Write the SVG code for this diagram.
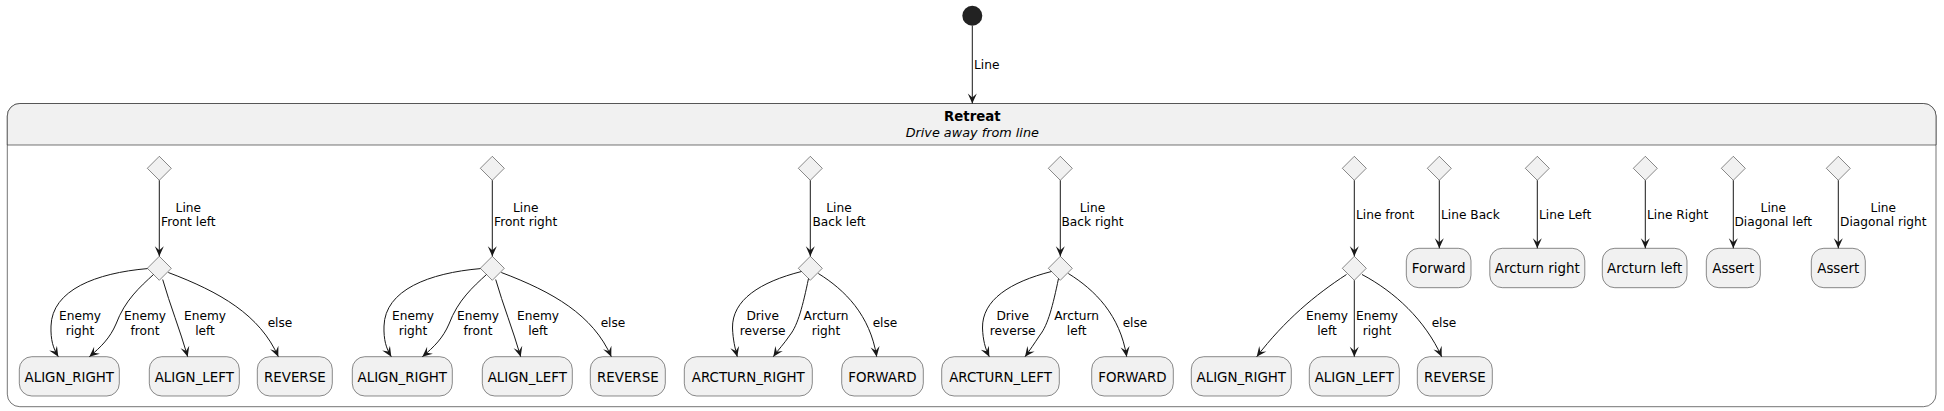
<svg xmlns="http://www.w3.org/2000/svg" width="1944" height="411" viewBox="0 0 1944 411">
<defs>
<marker id="ah" viewBox="-11 -6 12 12" refX="0" refY="0" markerWidth="12" markerHeight="12" markerUnits="userSpaceOnUse" orient="auto">
<path d="M0,0 L-10,-4.5 L-6,0 L-10,4.5 Z" fill="#181818"/>
</marker>
<style>
.st{fill:#F1F1F1;stroke:#181818;stroke-width:0.5}
.dm{fill:#F1F1F1;stroke:#181818;stroke-width:0.5}
.e{fill:none;stroke:#181818;stroke-width:1;marker-end:url(#ah)}
.sn{font-family:"DejaVu Sans",sans-serif;font-size:13.4px;fill:#000;text-anchor:middle}
.lb{font-family:"DejaVu Sans",sans-serif;font-size:12.2px;fill:#000;text-anchor:middle}
.ls{font-family:"DejaVu Sans",sans-serif;font-size:12.2px;fill:#000;text-anchor:start}
</style>
</defs>

<g id="start">
<circle cx="972.3" cy="15.7" r="10" fill="#222222"/>
</g>

<g id="Retreat">
<rect x="7.3" y="103.5" width="1928.7" height="303.2" rx="12.5" ry="12.5" fill="#FFFFFF" stroke="#181818" stroke-width="0.6"/>
<path d="M7.3,145 V116 A12.5,12.5 0 0 1 19.8,103.5 H1923.5 A12.5,12.5 0 0 1 1936,116 V145 Z" fill="#F1F1F1" stroke="#181818" stroke-width="0.6"/>
<text x="972.3" y="120.7" style="font-family:'DejaVu Sans',sans-serif;font-size:13.3px;font-weight:bold;text-anchor:middle">Retreat</text>
<text x="972.3" y="136.5" style="font-family:'DejaVu Sans',sans-serif;font-size:12.8px;font-style:italic;text-anchor:middle">Drive away from line</text>
</g>

<!-- Group 1 nodes -->
<g id="g1_choice1"><polygon class="dm" points="159.3,156.3 171.3,168.3 159.3,180.3 147.3,168.3"/></g>
<g id="g1_choice2"><polygon class="dm" points="159.3,256.3 171.3,268.3 159.3,280.3 147.3,268.3"/></g>
<g id="g1_align_right"><rect class="st" x="19.3" y="356.7" width="100" height="39.3" rx="12.5"/><text class="sn" x="69.3" y="381.5">ALIGN_RIGHT</text></g>
<g id="g1_align_left"><rect class="st" x="149.3" y="356.7" width="90" height="39.3" rx="12.5"/><text class="sn" x="194.3" y="381.5">ALIGN_LEFT</text></g>
<g id="g1_reverse"><rect class="st" x="257.3" y="356.7" width="75" height="39.3" rx="12.5"/><text class="sn" x="294.8" y="381.5">REVERSE</text></g>

<!-- Group 2 nodes -->
<g id="g2_choice1"><polygon class="dm" points="492.3,156.3 504.3,168.3 492.3,180.3 480.3,168.3"/></g>
<g id="g2_choice2"><polygon class="dm" points="492.3,256.3 504.3,268.3 492.3,280.3 480.3,268.3"/></g>
<g id="g2_align_right"><rect class="st" x="352.3" y="356.7" width="100" height="39.3" rx="12.5"/><text class="sn" x="402.3" y="381.5">ALIGN_RIGHT</text></g>
<g id="g2_align_left"><rect class="st" x="482.3" y="356.7" width="90" height="39.3" rx="12.5"/><text class="sn" x="527.3" y="381.5">ALIGN_LEFT</text></g>
<g id="g2_reverse"><rect class="st" x="590.3" y="356.7" width="75" height="39.3" rx="12.5"/><text class="sn" x="627.8" y="381.5">REVERSE</text></g>

<!-- Group 3 nodes -->
<g id="g3_choice1"><polygon class="dm" points="810.3,156.3 822.3,168.3 810.3,180.3 798.3,168.3"/></g>
<g id="g3_choice2"><polygon class="dm" points="810.3,256.3 822.3,268.3 810.3,280.3 798.3,268.3"/></g>
<g id="g3_arcturn_right"><rect class="st" x="684.3" y="356.7" width="128" height="39.3" rx="12.5"/><text class="sn" x="748.3" y="381.5">ARCTURN_RIGHT</text></g>
<g id="g3_forward"><rect class="st" x="841.7" y="356.7" width="81.6" height="39.3" rx="12.5"/><text class="sn" x="882.5" y="381.5">FORWARD</text></g>

<!-- Group 4 nodes -->
<g id="g4_choice1"><polygon class="dm" points="1060.3,156.3 1072.3,168.3 1060.3,180.3 1048.3,168.3"/></g>
<g id="g4_choice2"><polygon class="dm" points="1060.3,256.3 1072.3,268.3 1060.3,280.3 1048.3,268.3"/></g>
<g id="g4_arcturn_left"><rect class="st" x="941.7" y="356.7" width="117.6" height="39.3" rx="12.5"/><text class="sn" x="1000.5" y="381.5">ARCTURN_LEFT</text></g>
<g id="g4_forward"><rect class="st" x="1091.7" y="356.7" width="81.6" height="39.3" rx="12.5"/><text class="sn" x="1132.5" y="381.5">FORWARD</text></g>

<!-- Group 5 nodes -->
<g id="g5_choice1"><polygon class="dm" points="1354.3,156.3 1366.3,168.3 1354.3,180.3 1342.3,168.3"/></g>
<g id="g5_choice2"><polygon class="dm" points="1354.3,256.3 1366.3,268.3 1354.3,280.3 1342.3,268.3"/></g>
<g id="g5_align_right"><rect class="st" x="1191.3" y="356.7" width="100" height="39.3" rx="12.5"/><text class="sn" x="1241.3" y="381.5">ALIGN_RIGHT</text></g>
<g id="g5_align_left"><rect class="st" x="1309.3" y="356.7" width="90" height="39.3" rx="12.5"/><text class="sn" x="1354.3" y="381.5">ALIGN_LEFT</text></g>
<g id="g5_reverse"><rect class="st" x="1417.3" y="356.7" width="75" height="39.3" rx="12.5"/><text class="sn" x="1454.8" y="381.5">REVERSE</text></g>

<!-- Single transitions -->
<g id="g6_choice"><polygon class="dm" points="1439.3,156.3 1451.3,168.3 1439.3,180.3 1427.3,168.3"/></g>
<g id="g6_forward"><rect class="st" x="1406.3" y="248.3" width="64.7" height="39.4" rx="12.5"/><text class="sn" x="1438.7" y="273">Forward</text></g>
<g id="g7_choice"><polygon class="dm" points="1537.3,156.3 1549.3,168.3 1537.3,180.3 1525.3,168.3"/></g>
<g id="g7_arcturn_right"><rect class="st" x="1489.8" y="248.3" width="95" height="39.4" rx="12.5"/><text class="sn" x="1537.3" y="273">Arcturn right</text></g>
<g id="g8_choice"><polygon class="dm" points="1645.3,156.3 1657.3,168.3 1645.3,180.3 1633.3,168.3"/></g>
<g id="g8_arcturn_left"><rect class="st" x="1602.3" y="248.3" width="84.7" height="39.4" rx="12.5"/><text class="sn" x="1644.7" y="273">Arcturn left</text></g>
<g id="g9_choice"><polygon class="dm" points="1733.3,156.3 1745.3,168.3 1733.3,180.3 1721.3,168.3"/></g>
<g id="g9_assert"><rect class="st" x="1706.3" y="248.3" width="54" height="39.4" rx="12.5"/><text class="sn" x="1733.3" y="273">Assert</text></g>
<g id="g10_choice"><polygon class="dm" points="1838.3,156.3 1850.3,168.3 1838.3,180.3 1826.3,168.3"/></g>
<g id="g10_assert"><rect class="st" x="1811.3" y="248.3" width="54" height="39.4" rx="12.5"/><text class="sn" x="1838.3" y="273">Assert</text></g>

<g id="connectors">
<path class="e" d="M972.3,25.7 L972.3,103.5"/>
<text class="ls" x="974" y="68.5">Line</text>

<!-- group 1 -->
<path class="e" d="M159.3,180.3 L159.3,256.3"/>
<text class="lb" x="188.3" y="212">Line</text><text class="lb" x="188.3" y="226.3">Front left</text>
<path class="e" d="M147.5,268.6 C96,273 52,290 51,326 C50.6,340 53,348 58.3,356.7"/>
<text class="lb" x="80" y="320">Enemy</text><text class="lb" x="80" y="334.5">right</text>
<path class="e" d="M153.5,274.5 C140,287 125,300 116,324 C110,338 101,347 89.3,356.7"/>
<text class="lb" x="145" y="320">Enemy</text><text class="lb" x="145" y="334.5">front</text>
<path class="e" d="M162.7,279.5 C170,305 180,330 187.7,356.7"/>
<text class="lb" x="205" y="320">Enemy</text><text class="lb" x="205" y="334.5">left</text>
<path class="e" d="M168.3,272.5 C220,292 260,315 278.3,356.7"/>
<text class="lb" x="280" y="326.7">else</text>

<!-- group 2 -->
<path class="e" d="M492.3,180.3 L492.3,256.3"/>
<text class="lb" x="525.7" y="212">Line</text><text class="lb" x="525.7" y="226.3">Front right</text>
<path class="e" d="M480.5,268.6 C429,273 385,290 384,326 C383.6,340 386,348 391.3,356.7"/>
<text class="lb" x="413" y="320">Enemy</text><text class="lb" x="413" y="334.5">right</text>
<path class="e" d="M486.5,274.5 C473,287 458,300 449,324 C443,338 434,347 422.3,356.7"/>
<text class="lb" x="478" y="320">Enemy</text><text class="lb" x="478" y="334.5">front</text>
<path class="e" d="M495.7,279.5 C503,305 513,330 520.7,356.7"/>
<text class="lb" x="538" y="320">Enemy</text><text class="lb" x="538" y="334.5">left</text>
<path class="e" d="M501.3,272.5 C553,292 593,315 611.3,356.7"/>
<text class="lb" x="613" y="326.7">else</text>

<!-- group 3 -->
<path class="e" d="M810.3,180.3 L810.3,256.3"/>
<text class="lb" x="839" y="212">Line</text><text class="lb" x="839" y="226.3">Back left</text>
<path class="e" d="M801.5,271.5 C760,282 732,300 732.5,328 C733,340 735,348 737.3,356.7"/>
<text class="lb" x="762.7" y="320">Drive</text><text class="lb" x="762.7" y="334.5">reverse</text>
<path class="e" d="M808.5,278.5 C803,305 798,325 790,335 C784,344 778,350 773.3,356.7"/>
<text class="lb" x="826" y="320">Arcturn</text><text class="lb" x="826" y="334.5">right</text>
<path class="e" d="M818.3,273.5 C845,290 870,315 876.7,356.7"/>
<text class="lb" x="885" y="326.7">else</text>

<!-- group 4 -->
<path class="e" d="M1060.3,180.3 L1060.3,256.3"/>
<text class="lb" x="1092.5" y="212">Line</text><text class="lb" x="1092.5" y="226.3">Back right</text>
<path class="e" d="M1051.5,271.5 C1010,282 982,300 982.5,328 C983,340 985,348 989.3,356.7"/>
<text class="lb" x="1012.7" y="320">Drive</text><text class="lb" x="1012.7" y="334.5">reverse</text>
<path class="e" d="M1058.5,278.5 C1053,305 1048,325 1040,335 C1034,344 1030,350 1025,356.7"/>
<text class="lb" x="1076.7" y="320">Arcturn</text><text class="lb" x="1076.7" y="334.5">left</text>
<path class="e" d="M1068.3,273.5 C1095,290 1120,315 1126.7,356.7"/>
<text class="lb" x="1135" y="326.7">else</text>

<!-- group 5 -->
<path class="e" d="M1354.3,180.3 L1354.3,256.3"/>
<text class="ls" x="1356" y="218.5">Line front</text>
<path class="e" d="M1346.5,274.5 C1315,295 1285,320 1256.7,356.7"/>
<text class="lb" x="1327" y="320">Enemy</text><text class="lb" x="1327" y="334.5">left</text>
<path class="e" d="M1354.3,280.3 L1354.3,356.7"/>
<text class="lb" x="1377" y="320">Enemy</text><text class="lb" x="1377" y="334.5">right</text>
<path class="e" d="M1362,274.5 C1395,292 1425,320 1441.7,356.7"/>
<text class="lb" x="1444" y="326.7">else</text>

<!-- singles -->
<path class="e" d="M1439.3,180.3 L1439.3,248.3"/>
<text class="ls" x="1441" y="218.5">Line Back</text>
<path class="e" d="M1537.3,180.3 L1537.3,248.3"/>
<text class="ls" x="1539" y="218.5">Line Left</text>
<path class="e" d="M1645.3,180.3 L1645.3,248.3"/>
<text class="ls" x="1647" y="218.5">Line Right</text>
<path class="e" d="M1733.3,180.3 L1733.3,248.3"/>
<text class="lb" x="1773.3" y="212">Line</text><text class="lb" x="1773.3" y="226.3">Diagonal left</text>
<path class="e" d="M1838.3,180.3 L1838.3,248.3"/>
<text class="lb" x="1883.3" y="212">Line</text><text class="lb" x="1883.3" y="226.3">Diagonal right</text>
</g>
</svg>
